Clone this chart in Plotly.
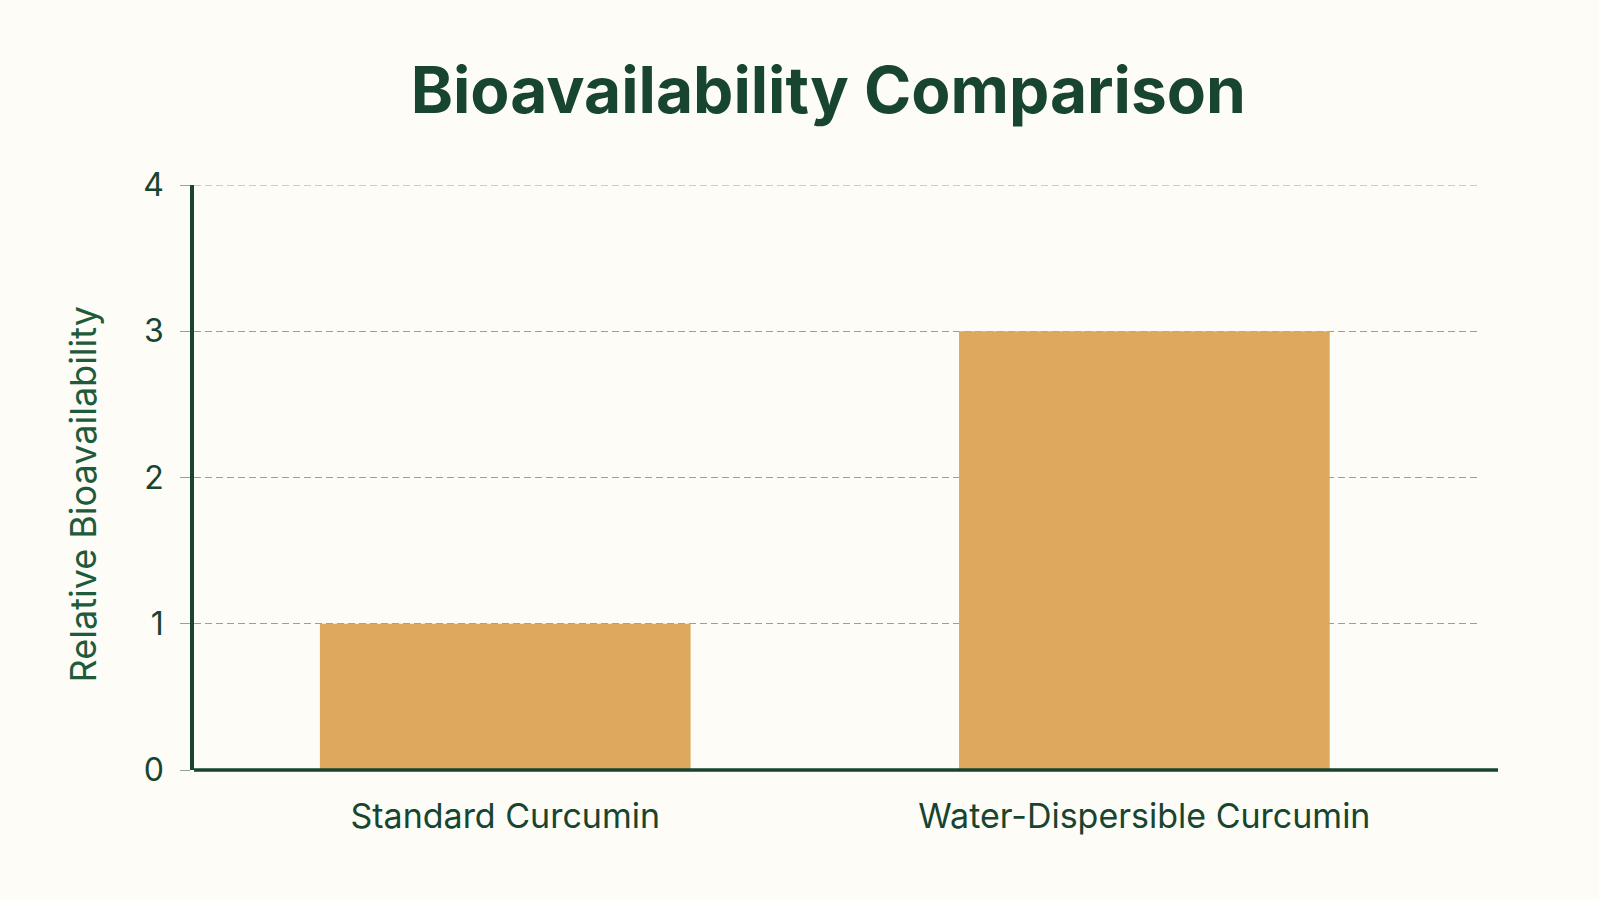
import plotly.graph_objects as go

categories = ["Standard Curcumin", "Water-Dispersible Curcumin"]
values = [1, 3]
y_ticks = [0, 1, 2, 3, 4]

green = "#17452f"
bar_color = "#dea95f"
bg = "#fdfcf6"
grid = "#9c9e99"
grid_dash = "7px,4px"

fig = go.Figure(
    go.Bar(x=categories, y=values, marker_color=bar_color, marker_line_width=0)
)

fig.update_layout(
    width=1599,
    height=900,
    paper_bgcolor=bg,
    plot_bgcolor=bg,
    margin=dict(l=194, r=121, t=185, b=130),
    bargap=0.42,
    showlegend=False,
    title=dict(
        text="<b>Bioavailability Comparison</b>",
        x=0.518,
        xanchor="center",
        y=0.899,
        yanchor="middle",
        font=dict(family="Inter", size=64, color=green),
    ),
    font=dict(family="Inter", color=green),
)

fig.update_yaxes(
    range=[0, 4],
    tickvals=y_ticks,
    tickfont=dict(size=32, color=green),
    showgrid=True,
    gridcolor=grid,
    griddash=grid_dash,
    gridwidth=1,
    zeroline=False,
    showline=True,
    linecolor=green,
    linewidth=3.5,
    ticks="outside",
    ticklen=10,
    tickcolor=grid,
    tickwidth=1,
    ticklabelstandoff=10,
)

fig.update_xaxes(
    range=[-0.487, 1.522],
    tickfont=dict(size=34, color=green),
    showline=False,
    ticks="outside",
    ticklen=16,
    tickcolor=bg,
    showgrid=False,
)

# y title sits a little below the middle of the axis
fig.add_annotation(
    text="Relative Bioavailability",
    textangle=-90,
    xref="paper",
    yref="paper",
    x=-0.0857,
    y=0.471,
    xanchor="center",
    yanchor="middle",
    showarrow=False,
    font=dict(family="Inter", size=36, color="#1f5a3b"),
)

# top gridline (plotly skips the one on the edge)
fig.add_shape(
    type="line",
    xref="paper",
    yref="y",
    x0=0,
    x1=1,
    y0=4,
    y1=4,
    line=dict(color=grid, width=1, dash=grid_dash),
    layer="below",
)

# x axis line, runs a bit past the plot area (paper ref so it isn't clipped)
fig.add_shape(
    type="line",
    xref="paper",
    yref="paper",
    x0=0,
    x1=1.0156,
    y0=0,
    y1=0,
    line=dict(color=green, width=3.5),
)

fig.write_html(
    "out.html",
    config={"displayModeBar": False},
    post_script="document.body.style.margin='0px';",
)
